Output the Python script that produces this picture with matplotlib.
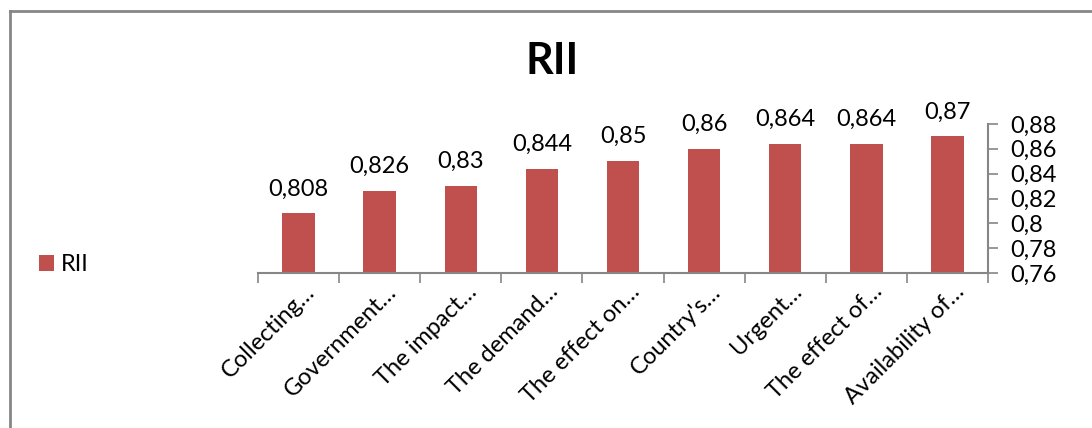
import matplotlib
matplotlib.use("Agg")
import matplotlib.pyplot as plt
import matplotlib.transforms as mtransforms
from matplotlib.lines import Line2D
from matplotlib.patches import Patch

plt.rcParams["font.family"] = ["Lato", "DejaVu Sans"]

_RED = "#c0504d"
_GRID = "#868686"

categories = [
    "Collecting…",
    "Government…",
    "The impact…",
    "The demand…",
    "The effect on…",
    "Country's…",
    "Urgent…",
    "The effect of…",
    "Availability of…",
]
rii_values = [0.808, 0.826, 0.83, 0.844, 0.85, 0.86, 0.864, 0.864, 0.87]
value_labels = ["0,808", "0,826", "0,83", "0,844", "0,85", "0,86", "0,864", "0,864", "0,87"]
y_ticks = [0.76, 0.78, 0.80, 0.82, 0.84, 0.86, 0.88]
y_tick_labels = ["0,76", "0,78", "0,8", "0,82", "0,84", "0,86", "0,88"]

fig = plt.figure(figsize=(10.92, 4.28), dpi=100)
ax = fig.add_axes([0.2363, 0.3621, 0.6685, 0.3482])

x = list(range(len(categories)))
ax.bar(x, rii_values, width=0.4, color=_RED, label="RII")

for xi, v, lab in zip(x, rii_values, value_labels):
    ax.annotate(lab, (xi, v), xytext=(0, 13), textcoords="offset points",
                ha="center", va="baseline", fontsize=17, color="black")

ax.set_xlim(-0.5, len(categories) - 0.5)
ax.set_ylim(0.76, 0.88)

# y axis on the right like the original
ax.yaxis.tick_right()
ax.set_yticks(y_ticks)
ax.set_yticklabels(y_tick_labels, fontsize=17)
ax.tick_params(axis="y", direction="out", length=7, width=1.2, color=_GRID, pad=9)

# tick marks between categories, labels at centers
ax.set_xticks([i - 0.5 for i in range(len(categories) + 1)])
ax.set_xticklabels([""] * (len(categories) + 1))
ax.tick_params(axis="x", which="major", direction="out", length=7, width=1.2, color=_GRID)
ax.set_xticks(x, minor=True)
ax.set_xticklabels(categories, minor=True, fontsize=17, rotation=45,
                   ha="right", va="center", rotation_mode="anchor")
ax.tick_params(axis="x", which="minor", length=0, pad=11)
offset = mtransforms.ScaledTranslation(0.13, 0, fig.dpi_scale_trans)
for lbl in ax.get_xticklabels(minor=True):
    lbl.set_transform(lbl.get_transform() + offset)

for side in ["top", "left"]:
    ax.spines[side].set_visible(False)
for side in ["bottom", "right"]:
    ax.spines[side].set_color(_GRID)
    ax.spines[side].set_linewidth(1.5)

fig.text(0.506, 0.857, "RII", ha="center", va="center", fontsize=31, fontweight="bold")

fig.legend(handles=[Patch(facecolor=_RED, label="RII")], loc="center left",
           bbox_to_anchor=(0.016, 0.381), frameon=False, fontsize=17,
           handlelength=0.65, handleheight=0.65, handletextpad=0.3)

# chart frame (top and left edges visible in the crop)
fig.add_artist(Line2D([0.0095, 0.0095], [0.0, 0.974], color=_GRID, lw=2))
fig.add_artist(Line2D([0.0095, 1.0], [0.974, 0.974], color=_GRID, lw=2))

fig.savefig("out.png", dpi=100)
